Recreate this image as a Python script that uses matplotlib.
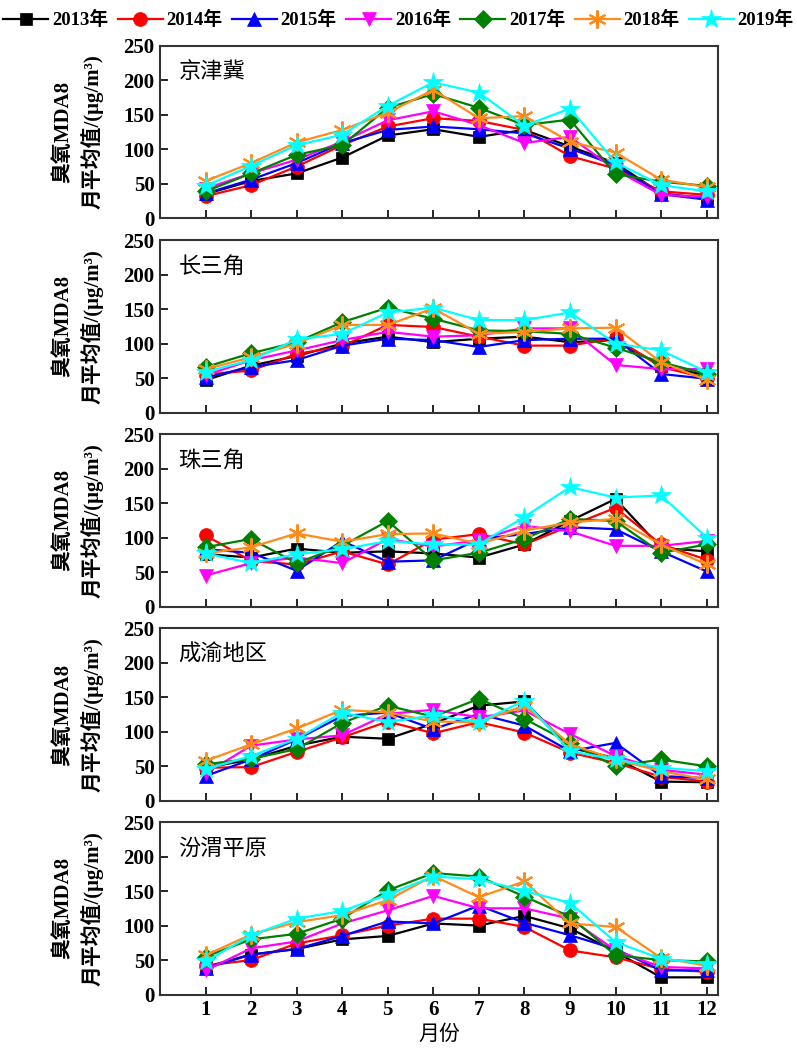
import matplotlib
matplotlib.use("Agg")
import matplotlib.pyplot as plt
from matplotlib.font_manager import FontProperties

plt.rcParams['font.family'] = ['Liberation Serif', 'Noto Sans CJK SC', 'DejaVu Sans']

months = list(range(1, 13))
years = ['2013年', '2014年', '2015年', '2016年', '2017年', '2018年', '2019年']
regions = ['京津冀', '长三角', '珠三角', '成渝地区', '汾渭平原']

# monthly mean ozone MDA8 (ug/m3), one list per year, per region
jjj = [
    [35, 54, 65, 88, 120, 129, 118, 128, 104, 80, 36, 29],
    [32, 48, 75, 106, 133, 145, 141, 128, 90, 72, 39, 34],
    [36, 56, 80, 109, 128, 133, 129, 123, 101, 77, 35, 27],
    [43, 65, 85, 111, 142, 155, 135, 109, 118, 70, 34, 31],
    [39, 65, 92, 106, 160, 180, 160, 135, 143, 64, 53, 47],
    [54, 80, 110, 128, 153, 186, 145, 148, 111, 95, 56, 45],
    [47, 76, 106, 121, 163, 197, 182, 134, 159, 81, 48, 39],
]
csj = [
    [47, 68, 82, 100, 110, 102, 107, 110, 102, 105, 68, 54],
    [55, 61, 85, 96, 127, 124, 110, 97, 97, 108, 66, 50],
    [51, 66, 76, 97, 107, 105, 95, 105, 107, 107, 56, 49],
    [54, 76, 90, 105, 117, 110, 112, 122, 122, 69, 63, 63],
    [66, 86, 102, 131, 152, 136, 119, 118, 114, 94, 73, 56],
    [63, 80, 100, 127, 127, 151, 114, 117, 122, 123, 73, 47],
    [59, 76, 106, 114, 145, 152, 134, 134, 145, 100, 90, 59],
]
zsj = [
    [76, 71, 84, 78, 80, 77, 71, 90, 124, 156, 85, 80],
    [103, 66, 61, 80, 61, 97, 105, 90, 117, 143, 90, 68],
    [83, 78, 52, 95, 65, 67, 98, 105, 115, 112, 80, 51],
    [45, 63, 71, 63, 98, 87, 96, 117, 109, 88, 88, 95],
    [86, 98, 63, 88, 124, 67, 78, 98, 127, 124, 78, 90],
    [77, 86, 106, 94, 105, 106, 91, 110, 122, 127, 90, 61],
    [77, 63, 76, 83, 95, 90, 90, 130, 173, 158, 161, 100],
]
cy = [
    [48, 60, 80, 93, 90, 112, 138, 144, 77, 62, 28, 27],
    [48, 49, 71, 92, 115, 98, 114, 99, 70, 55, 35, 28],
    [36, 60, 89, 123, 128, 104, 126, 109, 72, 84, 36, 33],
    [40, 80, 89, 95, 126, 132, 121, 131, 97, 65, 45, 38],
    [53, 61, 75, 113, 138, 122, 148, 119, 84, 50, 60, 50],
    [58, 82, 105, 132, 128, 115, 114, 138, 82, 60, 43, 31],
    [46, 65, 90, 128, 114, 124, 114, 145, 72, 60, 48, 43],
]
fw = [
    [40, 58, 66, 80, 85, 103, 100, 114, 96, 62, 25, 25],
    [42, 50, 74, 86, 100, 110, 110, 98, 64, 54, 37, 33],
    [38, 58, 66, 85, 106, 103, 129, 104, 86, 66, 35, 35],
    [35, 67, 77, 103, 122, 143, 125, 125, 110, 64, 40, 38],
    [55, 80, 88, 110, 151, 176, 171, 142, 113, 57, 50, 48],
    [57, 87, 105, 115, 137, 172, 141, 164, 103, 98, 53, 42],
    [48, 86, 110, 121, 145, 171, 167, 150, 133, 76, 52, 45],
]
data = [jjj, csj, zsj, cy, fw]

colors = ['black', '#FF0000', '#0000FF', '#FF00FF', '#008000', '#FF8C1A', '#00FFFF']
markers = ['s', 'o', '^', 'v', 'D', (6, 2, 0), '*']
msizes = [9, 10, 10, 10, 9, 13, 15]

W, H = 797, 1056
fig = plt.figure(figsize=(W / 100, H / 100), dpi=100)

left, right = 160, 718
tops = [45.7, 240, 434, 628.3, 822]
ph = 172.6

tick_font = {'family': 'Liberation Serif', 'weight': 'bold', 'size': 15}
axes = []
for i, (name, vals) in enumerate(zip(regions, data)):
    ax = fig.add_axes([left / W, 1 - (tops[i] + ph) / H, (right - left) / W, ph / H])
    for j in range(len(years)):
        ax.plot(months, vals[j], color=colors[j], marker=markers[j], markersize=msizes[j],
                linewidth=1.6, markeredgewidth=1.5 if j == 5 else 0.5,
                markeredgecolor=colors[j], label=years[j])
    ax.set_xlim(0, 12.25)
    ax.set_ylim(0, 250)
    ax.set_xticks(months)
    ax.set_yticks(range(0, 251, 50))
    ax.tick_params(direction='in', length=6, width=1.2, top=False, right=False, pad=4)
    for lab in ax.get_yticklabels():
        lab.set_fontproperties(FontProperties(**tick_font))
    if i < 4:
        ax.set_xticklabels([])
    else:
        for lab in ax.get_xticklabels():
            lab.set_fontproperties(FontProperties(**tick_font))
    for sp in ax.spines.values():
        sp.set_linewidth(1.5)
        sp.set_color('#333333')
    ax.text(0.033, 0.85, name, transform=ax.transAxes, fontsize=16,
            family=['Noto Sans CJK SC'], va='center', ha='left')
    ax.set_ylabel('臭氧MDA8\n月平均值/(μg/m³)',
                  fontsize=15, family=['Liberation Serif', 'Noto Sans CJK SC'],
                  weight='bold', labelpad=14, linespacing=1.45)
    axes.append(ax)

axes[-1].set_xlabel('月份', fontsize=15, family=['Noto Sans CJK SC'], labelpad=2)

handles, labels = axes[0].get_legend_handles_labels()
fig.legend(handles, labels, loc='upper center', bbox_to_anchor=(0.5, 1.0), ncol=7,
           frameon=False, handlelength=2.4, handletextpad=0.2, columnspacing=0.5,
           borderaxespad=0.2,
           prop=FontProperties(family=['Liberation Serif', 'Noto Sans CJK SC'],
                               weight='bold', size=13.5))

fig.savefig('out.png', dpi=100)
